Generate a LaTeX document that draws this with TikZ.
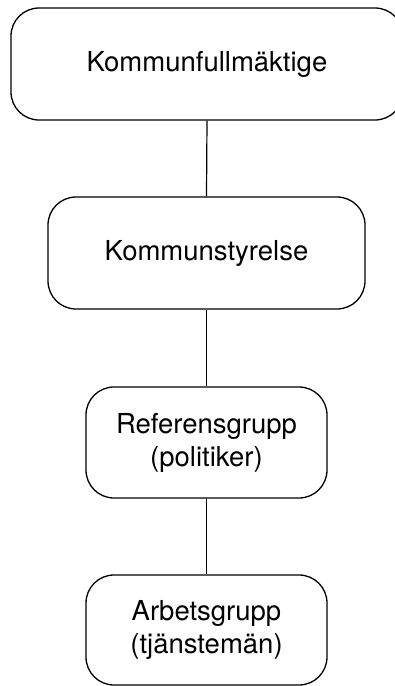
\documentclass[tikz,border=0pt]{standalone}
\usepackage{fontspec}
\setmainfont{TeX Gyre Heros}
\begin{document}
\begin{tikzpicture}[x=1pt,y=-1pt,
  orgbox/.style={draw=black, line width=1.3pt, rounded corners=28pt,
    align=center, inner sep=0pt, text=black,
    font=\fontsize{27.5}{33}\selectfont},
  link/.style={draw=black, line width=1.2pt}]
  \useasboundingbox (0,0) rectangle (395,686);
  \node[orgbox, minimum width=392pt, minimum height=112pt] (kf) at (207,64) {Kommunfullmäktige};
  \node[orgbox, minimum width=317pt, minimum height=112pt] (ks) at (206.5,253) {Kommunstyrelse};
  \node[orgbox, minimum width=241pt, minimum height=111pt] (rg) at (206.5,442.5) {Referensgrupp\\(politiker)};
  \node[orgbox, minimum width=241pt, minimum height=110pt] (ag) at (206.5,630) {Arbetsgrupp\\(tjänstemän)};
  \draw[link] (kf.south) -- (ks.north);
  \draw[link] (ks.south) -- (rg.north);
  \draw[link] (rg.south) -- (ag.north);
\end{tikzpicture}
\end{document}
